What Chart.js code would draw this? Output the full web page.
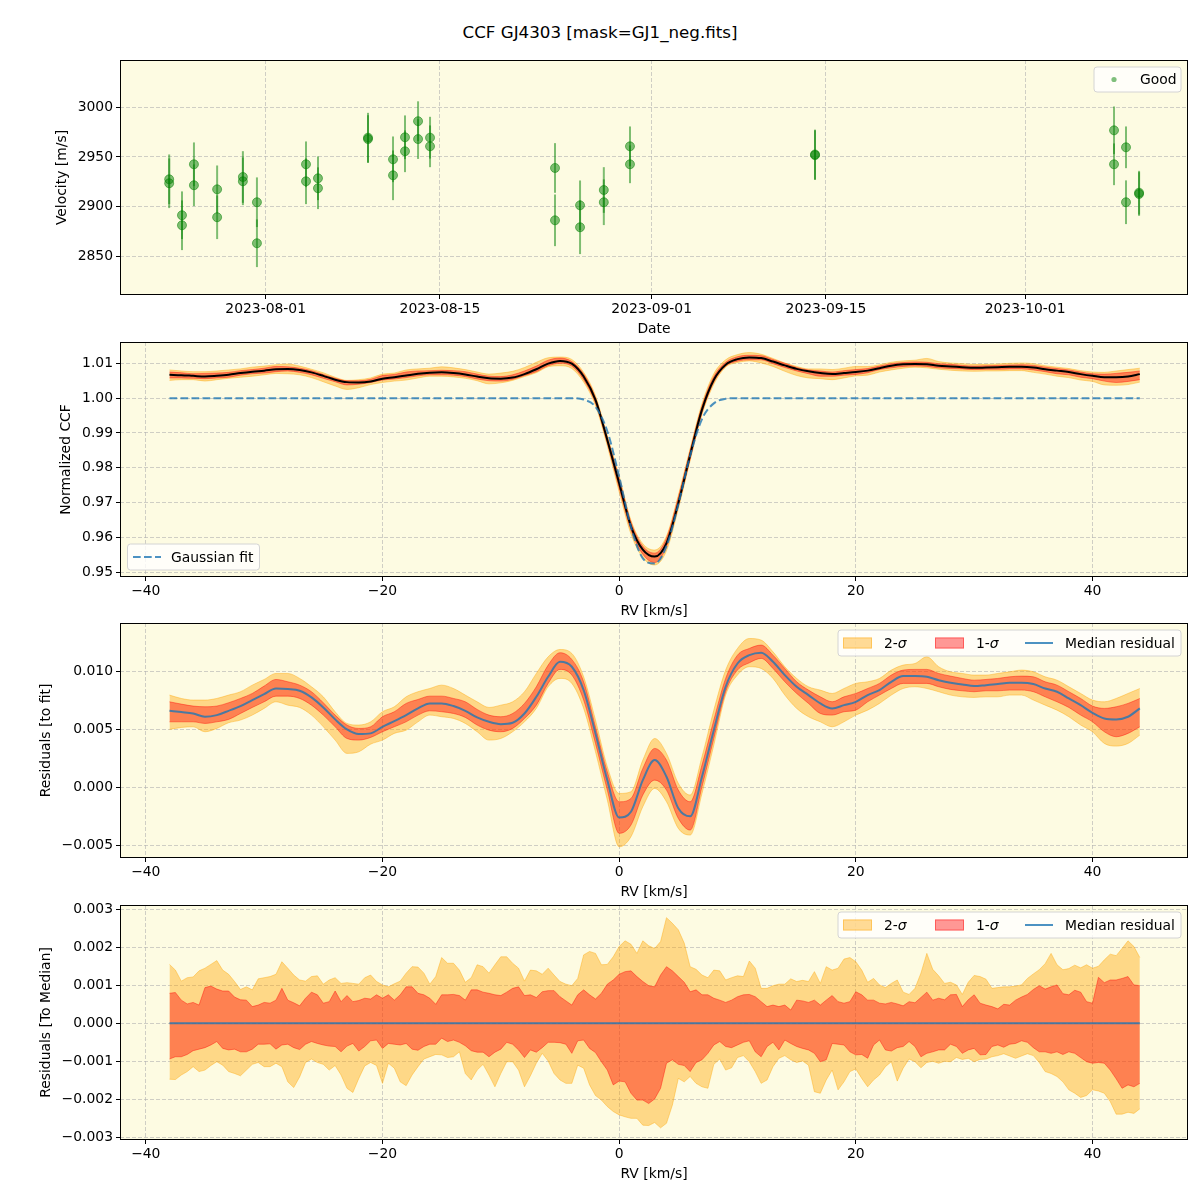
<!DOCTYPE html>
<html>
<head>
<meta charset="utf-8">
<script src="https://cdn.jsdelivr.net/npm/chart.js@4.4.1/dist/chart.umd.min.js"></script>
<style>
  body { margin: 0; background: #fff; }
  #wrap { position: relative; width: 1200px; height: 1200px; overflow: hidden; }
  #wrap canvas { position: absolute; left: 0; }
  #title { position: absolute; left: 0; top: 22px; width: 1200px; text-align: center;
           font: 16.7px "DejaVu Sans", sans-serif; line-height: 20px; color: #000; }
</style>
</head>
<body>
<div id="wrap">
  <div id="title">CCF GJ4303 [mask=GJ1_neg.fits]</div>
  <canvas id="c-rv" width="1200" height="290" style="top:48px"></canvas>
  <canvas id="c-ccf" width="1200" height="290" style="top:330px"></canvas>
  <canvas id="c-res" width="1200" height="290" style="top:611px"></canvas>
  <canvas id="c-norm" width="1200" height="290" style="top:893px"></canvas>
</div>
<script>
/* ============================================
   Data
   ============================================ */

// Panel 1: radial velocity time series (Good points)
const obsDates = [
    '2023-07-24T06:00', '2023-07-24T06:00', '2023-07-25T06:40', '2023-07-25T06:40',
    '2023-07-26T05:45', '2023-07-26T05:45', '2023-07-28T02:25', '2023-07-28T02:25',
    '2023-07-30T04:05', '2023-07-30T04:05', '2023-07-31T07:10', '2023-07-31T07:10',
    '2023-08-04T05:45', '2023-08-04T05:45', '2023-08-05T04:50', '2023-08-05T04:50',
    '2023-08-09T05:15', '2023-08-09T05:15', '2023-08-11T05:30', '2023-08-11T05:30',
    '2023-08-12T04:35', '2023-08-12T04:35', '2023-08-13T05:45', '2023-08-13T05:45',
    '2023-08-14T04:50', '2023-08-14T04:50', '2023-08-24T05:45', '2023-08-24T05:45',
    '2023-08-26T06:00', '2023-08-26T06:00', '2023-08-28T03:50', '2023-08-28T03:50',
    '2023-08-30T06:15', '2023-08-30T06:15', '2023-09-14T02:55', '2023-09-14T02:55',
    '2023-10-08T03:20', '2023-10-08T03:20', '2023-10-09T02:25', '2023-10-09T02:25',
    '2023-10-10T03:35', '2023-10-10T03:35'
];
const obsVel = [
    2927.5, 2923.5, 2891.3, 2881.2, 2942.6, 2921.5, 2917.4, 2889.3, 2929.8, 2925.5,
    2904.4, 2863.1, 2942.6, 2925.5, 2928.5, 2918.5, 2969.4, 2968.0, 2947.6, 2931.5,
    2969.8, 2955.7, 2986.0, 2968.0, 2969.4, 2960.7, 2938.9, 2886.2, 2901.3, 2879.2,
    2916.7, 2904.4, 2960.7, 2942.6, 2952.5, 2951.8, 2976.8, 2942.6, 2959.7, 2904.4,
    2914.0, 2912.7
];
const obsErr = [
    25, 25, 24, 25, 22, 21, 24, 22, 26, 24,
    25, 24, 23, 23, 22, 21, 25, 24, 23, 25,
    22, 21, 20, 20, 21, 21, 25, 26, 25, 27,
    23, 23, 20, 19, 25, 25, 24, 21, 21, 22,
    22, 22
];
const dateTicks = ['2023-08-01', '2023-08-15', '2023-09-01', '2023-09-15', '2023-10-01'];
const velTicks = [2850, 2900, 2950, 3000];

// Panels 2-3: RV grid (km/s)
const rvCoarse = [
    -38, -37, -36, -35, -34, -33, -32, -31, -30, -29,
    -28, -27, -26, -25, -24, -23, -22, -21, -20, -19,
    -18, -17, -16, -15, -14, -13, -12, -11, -10, -9,
    -8, -7, -6, -5, -4, -3, -2, -1, 0, 1,
    2, 3, 4, 5, 6, 7, 8, 9, 10, 11,
    12, 13, 14, 15, 16, 17, 18, 19, 20, 21,
    22, 23, 24, 25, 26, 27, 28, 29, 30, 31,
    32, 33, 34, 35, 36, 37, 38, 39, 40, 41,
    42, 43, 44
];

// Panel 2: normalized CCF
const ccfMedian = [
    1.0067, 1.0066, 1.0064, 1.0062, 1.0064, 1.0067, 1.0072, 1.0076, 1.0079, 1.0083,
    1.0084, 1.0081, 1.0074, 1.0064, 1.0053, 1.0046, 1.0045, 1.0048, 1.0056, 1.0060,
    1.0065, 1.0070, 1.0073, 1.0074, 1.0072, 1.0068, 1.0062, 1.0057, 1.0056, 1.0059,
    1.0069, 1.0083, 1.0099, 1.0107, 1.0099, 1.0062, 0.9995, 0.9880, 0.9756, 0.9632,
    0.9565, 0.9545, 0.9584, 0.9699, 0.9837, 0.9967, 1.0053, 1.0096, 1.0112, 1.0117,
    1.0115, 1.0105, 1.0094, 1.0084, 1.0077, 1.0072, 1.0069, 1.0072, 1.0075, 1.0079,
    1.0086, 1.0093, 1.0097, 1.0098, 1.0097, 1.0093, 1.0091, 1.0089, 1.0087, 1.0088,
    1.0089, 1.0090, 1.0090, 1.0088, 1.0083, 1.0079, 1.0075, 1.0069, 1.0064, 1.0060,
    1.0060, 1.0062, 1.0069
];
const ccf2Hi = [
    1.0081, 1.0078, 1.0076, 1.0076, 1.0078, 1.0081, 1.0084, 1.0089, 1.0092, 1.0096,
    1.0098, 1.0092, 1.0083, 1.0073, 1.0060, 1.0051, 1.0053, 1.0058, 1.0069, 1.0072,
    1.0081, 1.0084, 1.0086, 1.0090, 1.0087, 1.0082, 1.0075, 1.0069, 1.0072, 1.0077,
    1.0088, 1.0103, 1.0116, 1.0118, 1.0111, 1.0074, 1.0007, 0.9892, 0.9777, 0.9649,
    0.9582, 0.9564, 0.9604, 0.9721, 0.9855, 0.9984, 1.0070, 1.0110, 1.0125, 1.0131,
    1.0126, 1.0114, 1.0101, 1.0091, 1.0084, 1.0084, 1.0082, 1.0086, 1.0091, 1.0091,
    1.0096, 1.0103, 1.0107, 1.0109, 1.0114, 1.0105, 1.0101, 1.0099, 1.0097, 1.0097,
    1.0098, 1.0100, 1.0101, 1.0099, 1.0093, 1.0089, 1.0085, 1.0079, 1.0075, 1.0074,
    1.0078, 1.0082, 1.0086
];
const ccf1Hi = [
    1.0075, 1.0073, 1.0070, 1.0071, 1.0072, 1.0074, 1.0079, 1.0082, 1.0086, 1.0091,
    1.0090, 1.0086, 1.0079, 1.0068, 1.0057, 1.0050, 1.0050, 1.0054, 1.0065, 1.0068,
    1.0075, 1.0078, 1.0079, 1.0080, 1.0079, 1.0076, 1.0069, 1.0063, 1.0062, 1.0067,
    1.0078, 1.0092, 1.0109, 1.0115, 1.0105, 1.0069, 1.0001, 0.9887, 0.9770, 0.9644,
    0.9575, 0.9555, 0.9598, 0.9715, 0.9850, 0.9977, 1.0062, 1.0103, 1.0119, 1.0123,
    1.0122, 1.0111, 1.0100, 1.0088, 1.0081, 1.0078, 1.0075, 1.0079, 1.0082, 1.0085,
    1.0092, 1.0099, 1.0102, 1.0104, 1.0103, 1.0099, 1.0097, 1.0094, 1.0092, 1.0093,
    1.0094, 1.0095, 1.0096, 1.0094, 1.0089, 1.0085, 1.0081, 1.0075, 1.0070, 1.0069,
    1.0071, 1.0074, 1.0078
];
const ccf1Lo = [
    1.0058, 1.0058, 1.0057, 1.0056, 1.0058, 1.0060, 1.0066, 1.0070, 1.0072, 1.0076,
    1.0078, 1.0074, 1.0067, 1.0057, 1.0047, 1.0038, 1.0040, 1.0045, 1.0052, 1.0055,
    1.0059, 1.0064, 1.0067, 1.0067, 1.0066, 1.0062, 1.0055, 1.0050, 1.0049, 1.0054,
    1.0065, 1.0076, 1.0093, 1.0100, 1.0092, 1.0053, 0.9986, 0.9871, 0.9742, 0.9621,
    0.9552, 0.9528, 0.9573, 0.9690, 0.9825, 0.9958, 1.0046, 1.0092, 1.0106, 1.0110,
    1.0110, 1.0099, 1.0088, 1.0078, 1.0070, 1.0063, 1.0063, 1.0066, 1.0068, 1.0073,
    1.0082, 1.0087, 1.0091, 1.0092, 1.0091, 1.0087, 1.0085, 1.0084, 1.0082, 1.0083,
    1.0083, 1.0084, 1.0084, 1.0081, 1.0076, 1.0070, 1.0067, 1.0060, 1.0056, 1.0049,
    1.0045, 1.0048, 1.0053
];
const ccf2Lo = [
    1.0051, 1.0053, 1.0053, 1.0049, 1.0053, 1.0057, 1.0060, 1.0063, 1.0067, 1.0071,
    1.0070, 1.0067, 1.0059, 1.0047, 1.0035, 1.0025, 1.0030, 1.0039, 1.0045, 1.0049,
    1.0052, 1.0058, 1.0063, 1.0063, 1.0061, 1.0057, 1.0050, 1.0041, 1.0044, 1.0051,
    1.0062, 1.0073, 1.0090, 1.0093, 1.0085, 1.0046, 0.9979, 0.9863, 0.9731, 0.9610,
    0.9542, 0.9521, 0.9562, 0.9682, 0.9821, 0.9953, 1.0040, 1.0089, 1.0102, 1.0107,
    1.0101, 1.0091, 1.0077, 1.0065, 1.0058, 1.0056, 1.0053, 1.0058, 1.0064, 1.0066,
    1.0075, 1.0081, 1.0086, 1.0089, 1.0087, 1.0083, 1.0080, 1.0078, 1.0077, 1.0078,
    1.0078, 1.0079, 1.0079, 1.0074, 1.0069, 1.0063, 1.0059, 1.0052, 1.0048, 1.0038,
    1.0037, 1.0039, 1.0046
];
const gaussFit = [
    1.0, 1.0, 1.0, 1.0, 1.0, 1.0, 1.0, 1.0, 1.0, 1.0,
    1.0, 1.0, 1.0, 1.0, 1.0, 1.0, 1.0, 1.0, 1.0, 1.0,
    1.0, 1.0, 1.0, 1.0, 1.0, 1.0, 1.0, 1.0, 1.0, 1.0,
    1.0, 1.0, 1.0, 1.0, 1.0, 0.9996, 0.9975, 0.9905, 0.9775, 0.9630,
    0.9540, 0.9525, 0.9575, 0.9695, 0.9835, 0.9940, 0.9985, 0.9998, 1.0, 1.0,
    1.0, 1.0, 1.0, 1.0, 1.0, 1.0, 1.0, 1.0, 1.0, 1.0,
    1.0, 1.0, 1.0, 1.0, 1.0, 1.0, 1.0, 1.0, 1.0, 1.0,
    1.0, 1.0, 1.0, 1.0, 1.0, 1.0, 1.0, 1.0, 1.0, 1.0,
    1.0, 1.0, 1.0
];
const ccfTicks = [0.95, 0.96, 0.97, 0.98, 0.99, 1.00, 1.01];

// Panel 3: residuals to the Gaussian fit
const resMedian = [
    0.00662, 0.00651, 0.00639, 0.00611, 0.00625, 0.00662, 0.00703, 0.00755, 0.00806, 0.00855,
    0.00850, 0.00835, 0.00778, 0.00691, 0.00588, 0.00501, 0.00461, 0.00467, 0.00524, 0.00573,
    0.00625, 0.00683, 0.00726, 0.00726, 0.00703, 0.00662, 0.00605, 0.00567, 0.00547, 0.00559,
    0.00639, 0.00783, 0.00956, 0.01086, 0.01043, 0.00841, 0.00467, 0.00063, -0.00260, -0.00210,
    0.00063, 0.00236, 0.00092, -0.00180, -0.00250, 0.00092, 0.00495, 0.00870, 0.01071, 0.01143,
    0.01164, 0.01086, 0.00971, 0.00870, 0.00798, 0.00726, 0.00683, 0.00711, 0.00740, 0.00798,
    0.00841, 0.00913, 0.00962, 0.00962, 0.00956, 0.00927, 0.00904, 0.00890, 0.00876, 0.00884,
    0.00893, 0.00904, 0.00904, 0.00893, 0.00855, 0.00827, 0.00769, 0.00711, 0.00645, 0.00596,
    0.00588, 0.00611, 0.00683
];
const res2Hi = [
    0.00798, 0.00769, 0.00755, 0.00755, 0.00769, 0.00798, 0.00827, 0.00884, 0.00933, 0.00985,
    0.00985, 0.00942, 0.00870, 0.00783, 0.00654, 0.00553, 0.00539, 0.00567, 0.00654, 0.00697,
    0.00783, 0.00827, 0.00855, 0.00884, 0.00855, 0.00798, 0.00740, 0.00691, 0.00711, 0.00740,
    0.00827, 0.00985, 0.01129, 0.01192, 0.01158, 0.00956, 0.00582, 0.00179, -0.00052, -0.00037,
    0.00236, 0.00423, 0.00294, 0.00035, -0.00066, 0.00265, 0.00668, 0.01014, 0.01201, 0.01287,
    0.01273, 0.01172, 0.01043, 0.00942, 0.00870, 0.00841, 0.00812, 0.00855, 0.00899, 0.00913,
    0.00942, 0.01014, 0.01057, 0.01071, 0.01129, 0.01043, 0.00999, 0.00985, 0.00971, 0.00971,
    0.00985, 0.00999, 0.01014, 0.00999, 0.00956, 0.00927, 0.00870, 0.00812, 0.00755, 0.00740,
    0.00769, 0.00812, 0.00855
];
const res1Hi = [
    0.00740, 0.00720, 0.00703, 0.00697, 0.00703, 0.00732, 0.00769, 0.00812, 0.00876, 0.00933,
    0.00913, 0.00884, 0.00827, 0.00732, 0.00625, 0.00539, 0.00510, 0.00524, 0.00611, 0.00654,
    0.00726, 0.00760, 0.00789, 0.00789, 0.00769, 0.00740, 0.00674, 0.00625, 0.00611, 0.00639,
    0.00726, 0.00870, 0.01057, 0.01164, 0.01106, 0.00913, 0.00524, 0.00135, -0.00124, -0.00095,
    0.00164, 0.00337, 0.00236, -0.00023, -0.00124, 0.00193, 0.00582, 0.00942, 0.01143, 0.01201,
    0.01230, 0.01143, 0.01028, 0.00913, 0.00841, 0.00783, 0.00740, 0.00783, 0.00812, 0.00855,
    0.00899, 0.00971, 0.01014, 0.01020, 0.01020, 0.00985, 0.00962, 0.00942, 0.00927, 0.00933,
    0.00942, 0.00956, 0.00962, 0.00956, 0.00913, 0.00884, 0.00827, 0.00769, 0.00703, 0.00683,
    0.00697, 0.00726, 0.00769
];
const res1Lo = [
    0.00567, 0.00567, 0.00567, 0.00553, 0.00567, 0.00588, 0.00639, 0.00691, 0.00740, 0.00789,
    0.00789, 0.00769, 0.00711, 0.00625, 0.00524, 0.00423, 0.00409, 0.00432, 0.00481, 0.00524,
    0.00567, 0.00625, 0.00662, 0.00654, 0.00639, 0.00605, 0.00539, 0.00495, 0.00481, 0.00510,
    0.00596, 0.00711, 0.00899, 0.01020, 0.00971, 0.00755, 0.00380, -0.00023, -0.00397, -0.00325,
    -0.00066, 0.00063, -0.00023, -0.00268, -0.00369, 0.00006, 0.00423, 0.00827, 0.01014, 0.01077,
    0.01115, 0.01028, 0.00913, 0.00812, 0.00726, 0.00639, 0.00625, 0.00654, 0.00668, 0.00740,
    0.00798, 0.00855, 0.00899, 0.00899, 0.00899, 0.00870, 0.00847, 0.00835, 0.00827, 0.00835,
    0.00835, 0.00841, 0.00841, 0.00827, 0.00783, 0.00740, 0.00691, 0.00625, 0.00567, 0.00481,
    0.00438, 0.00467, 0.00524
];
const res2Lo = [
    0.00501, 0.00518, 0.00524, 0.00481, 0.00510, 0.00559, 0.00582, 0.00625, 0.00683, 0.00740,
    0.00711, 0.00691, 0.00625, 0.00524, 0.00409, 0.00294, 0.00308, 0.00374, 0.00409, 0.00467,
    0.00495, 0.00567, 0.00625, 0.00611, 0.00596, 0.00553, 0.00481, 0.00409, 0.00423, 0.00481,
    0.00567, 0.00683, 0.00870, 0.00942, 0.00899, 0.00683, 0.00308, -0.00109, -0.00513, -0.00426,
    -0.00167, -0.00009, -0.00124, -0.00354, -0.00412, -0.00052, 0.00366, 0.00798, 0.00971, 0.01043,
    0.01028, 0.00942, 0.00798, 0.00683, 0.00611, 0.00567, 0.00524, 0.00567, 0.00625, 0.00668,
    0.00726, 0.00798, 0.00855, 0.00870, 0.00855, 0.00827, 0.00798, 0.00783, 0.00778, 0.00783,
    0.00783, 0.00798, 0.00798, 0.00755, 0.00711, 0.00668, 0.00611, 0.00539, 0.00481, 0.00380,
    0.00357, 0.00380, 0.00452
];
const resTicks = [-0.005, 0.0, 0.005, 0.010];

// Panel 4: residuals to the median (finer RV grid)
const rvFine = [
    -38, -37.5, -37, -36.5, -36, -35.5, -35, -34.5, -34, -33.5,
    -33, -32.5, -32, -31.5, -31, -30.5, -30, -29.5, -29, -28.5,
    -28, -27.5, -27, -26.5, -26, -25.5, -25, -24.5, -24, -23.5,
    -23, -22.5, -22, -21.5, -21, -20.5, -20, -19.5, -19, -18.5,
    -18, -17.5, -17, -16.5, -16, -15.5, -15, -14.5, -14, -13.5,
    -13, -12.5, -12, -11.5, -11, -10.5, -10, -9.5, -9, -8.5,
    -8, -7.5, -7, -6.5, -6, -5.5, -5, -4.5, -4, -3.5,
    -3, -2.5, -2, -1.5, -1, -0.5, 0, 0.5, 1, 1.5,
    2, 2.5, 3, 3.5, 4, 4.5, 5, 5.5, 6, 6.5,
    7, 7.5, 8, 8.5, 9, 9.5, 10, 10.5, 11, 11.5,
    12, 12.5, 13, 13.5, 14, 14.5, 15, 15.5, 16, 16.5,
    17, 17.5, 18, 18.5, 19, 19.5, 20, 20.5, 21, 21.5,
    22, 22.5, 23, 23.5, 24, 24.5, 25, 25.5, 26, 26.5,
    27, 27.5, 28, 28.5, 29, 29.5, 30, 30.5, 31, 31.5,
    32, 32.5, 33, 33.5, 34, 34.5, 35, 35.5, 36, 36.5,
    37, 37.5, 38, 38.5, 39, 39.5, 40, 40.5, 41, 41.5,
    42, 42.5, 43, 43.5, 44
];
const norm2Hi = [
    0.00155, 0.00140, 0.00111, 0.00120, 0.00122, 0.00138, 0.00145, 0.00155, 0.00165, 0.00140,
    0.00129, 0.00110, 0.00089, 0.00096, 0.00088, 0.00117, 0.00120, 0.00123, 0.00129, 0.00162,
    0.00145, 0.00127, 0.00114, 0.00111, 0.00123, 0.00125, 0.00103, 0.00114, 0.00120, 0.00105,
    0.00107, 0.00105, 0.00103, 0.00120, 0.00127, 0.00110, 0.00101, 0.00096, 0.00104, 0.00111,
    0.00132, 0.00149, 0.00148, 0.00132, 0.00103, 0.00123, 0.00173, 0.00158, 0.00158, 0.00140,
    0.00108, 0.00120, 0.00154, 0.00149, 0.00132, 0.00154, 0.00175, 0.00175, 0.00158, 0.00145,
    0.00111, 0.00140, 0.00138, 0.00129, 0.00145, 0.00127, 0.00110, 0.00103, 0.00099, 0.00118,
    0.00180, 0.00189, 0.00184, 0.00154, 0.00155, 0.00175, 0.00202, 0.00217, 0.00208, 0.00184,
    0.00217, 0.00204, 0.00197, 0.00215, 0.00278, 0.00263, 0.00246, 0.00211, 0.00149, 0.00142,
    0.00127, 0.00120, 0.00140, 0.00138, 0.00114, 0.00120, 0.00125, 0.00123, 0.00164, 0.00145,
    0.00092, 0.00092, 0.00099, 0.00103, 0.00103, 0.00117, 0.00110, 0.00113, 0.00110, 0.00136,
    0.00105, 0.00149, 0.00140, 0.00145, 0.00169, 0.00173, 0.00162, 0.00140, 0.00108, 0.00118,
    0.00101, 0.00094, 0.00105, 0.00114, 0.00082, 0.00076, 0.00092, 0.00132, 0.00184, 0.00142,
    0.00125, 0.00105, 0.00108, 0.00101, 0.00076, 0.00108, 0.00126, 0.00123, 0.00116, 0.00092,
    0.00094, 0.00096, 0.00096, 0.00098, 0.00101, 0.00118, 0.00130, 0.00141, 0.00157, 0.00184,
    0.00154, 0.00141, 0.00144, 0.00153, 0.00146, 0.00154, 0.00145, 0.00150, 0.00167, 0.00182,
    0.00178, 0.00197, 0.00217, 0.00202, 0.00173
];
const norm1Hi = [
    0.00079, 0.00081, 0.00061, 0.00051, 0.00055, 0.00048, 0.00094, 0.00098, 0.00090, 0.00085,
    0.00085, 0.00069, 0.00062, 0.00061, 0.00044, 0.00048, 0.00055, 0.00053, 0.00061, 0.00092,
    0.00061, 0.00054, 0.00046, 0.00066, 0.00082, 0.00075, 0.00053, 0.00057, 0.00085, 0.00057,
    0.00073, 0.00057, 0.00060, 0.00066, 0.00064, 0.00075, 0.00066, 0.00075, 0.00061, 0.00075,
    0.00096, 0.00096, 0.00079, 0.00075, 0.00066, 0.00050, 0.00075, 0.00075, 0.00076, 0.00073,
    0.00061, 0.00088, 0.00088, 0.00082, 0.00079, 0.00075, 0.00073, 0.00082, 0.00092, 0.00096,
    0.00073, 0.00075, 0.00068, 0.00083, 0.00086, 0.00086, 0.00070, 0.00059, 0.00048, 0.00075,
    0.00088, 0.00075, 0.00064, 0.00079, 0.00103, 0.00114, 0.00129, 0.00136, 0.00138, 0.00123,
    0.00110, 0.00099, 0.00096, 0.00127, 0.00149, 0.00138, 0.00123, 0.00108, 0.00083, 0.00088,
    0.00075, 0.00075, 0.00066, 0.00061, 0.00055, 0.00061, 0.00070, 0.00075, 0.00076, 0.00070,
    0.00057, 0.00044, 0.00048, 0.00044, 0.00048, 0.00035, 0.00061, 0.00059, 0.00055, 0.00061,
    0.00048, 0.00061, 0.00073, 0.00057, 0.00053, 0.00057, 0.00083, 0.00075, 0.00061, 0.00061,
    0.00053, 0.00051, 0.00055, 0.00051, 0.00046, 0.00057, 0.00054, 0.00068, 0.00082, 0.00061,
    0.00066, 0.00062, 0.00075, 0.00076, 0.00044, 0.00062, 0.00075, 0.00053, 0.00048, 0.00044,
    0.00038, 0.00050, 0.00048, 0.00061, 0.00069, 0.00076, 0.00089, 0.00099, 0.00090, 0.00096,
    0.00101, 0.00078, 0.00075, 0.00087, 0.00082, 0.00057, 0.00053, 0.00121, 0.00107, 0.00114,
    0.00114, 0.00118, 0.00123, 0.00101, 0.00099
];
const norm1Lo = [
    -0.00094, -0.00088, -0.00088, -0.00082, -0.00072, -0.00068, -0.00064, -0.00057, -0.00048, -0.00066,
    -0.00070, -0.00068, -0.00075, -0.00075, -0.00068, -0.00055, -0.00055, -0.00054, -0.00068, -0.00057,
    -0.00055, -0.00064, -0.00069, -0.00055, -0.00048, -0.00053, -0.00057, -0.00060, -0.00061, -0.00075,
    -0.00060, -0.00053, -0.00073, -0.00061, -0.00046, -0.00044, -0.00066, -0.00053, -0.00055, -0.00057,
    -0.00053, -0.00068, -0.00071, -0.00061, -0.00055, -0.00055, -0.00039, -0.00048, -0.00044, -0.00050,
    -0.00059, -0.00072, -0.00076, -0.00076, -0.00088, -0.00076, -0.00068, -0.00050, -0.00055, -0.00070,
    -0.00090, -0.00070, -0.00076, -0.00064, -0.00050, -0.00050, -0.00051, -0.00055, -0.00079, -0.00046,
    -0.00044, -0.00066, -0.00077, -0.00101, -0.00123, -0.00162, -0.00152, -0.00154, -0.00184, -0.00202,
    -0.00202, -0.00211, -0.00199, -0.00171, -0.00105, -0.00096, -0.00108, -0.00111, -0.00127, -0.00103,
    -0.00096, -0.00079, -0.00057, -0.00048, -0.00061, -0.00064, -0.00057, -0.00050, -0.00046, -0.00075,
    -0.00088, -0.00061, -0.00050, -0.00070, -0.00044, -0.00053, -0.00061, -0.00066, -0.00070, -0.00079,
    -0.00101, -0.00096, -0.00053, -0.00055, -0.00057, -0.00075, -0.00083, -0.00082, -0.00092, -0.00057,
    -0.00044, -0.00070, -0.00073, -0.00064, -0.00061, -0.00048, -0.00061, -0.00088, -0.00079, -0.00075,
    -0.00070, -0.00070, -0.00055, -0.00061, -0.00079, -0.00070, -0.00066, -0.00083, -0.00082, -0.00061,
    -0.00057, -0.00063, -0.00055, -0.00053, -0.00046, -0.00050, -0.00064, -0.00075, -0.00075, -0.00079,
    -0.00075, -0.00082, -0.00075, -0.00079, -0.00090, -0.00101, -0.00105, -0.00103, -0.00105, -0.00123,
    -0.00146, -0.00171, -0.00162, -0.00167, -0.00158
];
const norm2Lo = [
    -0.00147, -0.00148, -0.00136, -0.00127, -0.00114, -0.00127, -0.00123, -0.00111, -0.00101, -0.00110,
    -0.00127, -0.00132, -0.00138, -0.00123, -0.00108, -0.00103, -0.00114, -0.00114, -0.00105, -0.00114,
    -0.00154, -0.00169, -0.00141, -0.00103, -0.00094, -0.00103, -0.00108, -0.00123, -0.00111, -0.00136,
    -0.00171, -0.00182, -0.00145, -0.00112, -0.00103, -0.00111, -0.00158, -0.00105, -0.00118, -0.00154,
    -0.00164, -0.00136, -0.00114, -0.00094, -0.00088, -0.00082, -0.00083, -0.00090, -0.00088, -0.00075,
    -0.00132, -0.00149, -0.00123, -0.00108, -0.00136, -0.00167, -0.00132, -0.00101, -0.00101, -0.00123,
    -0.00167, -0.00138, -0.00105, -0.00079, -0.00099, -0.00132, -0.00149, -0.00158, -0.00158, -0.00110,
    -0.00118, -0.00162, -0.00190, -0.00202, -0.00219, -0.00232, -0.00241, -0.00246, -0.00250, -0.00250,
    -0.00268, -0.00269, -0.00261, -0.00275, -0.00263, -0.00215, -0.00145, -0.00154, -0.00140, -0.00158,
    -0.00167, -0.00171, -0.00108, -0.00094, -0.00123, -0.00117, -0.00090, -0.00085, -0.00101, -0.00127,
    -0.00158, -0.00149, -0.00114, -0.00092, -0.00085, -0.00096, -0.00103, -0.00099, -0.00110, -0.00180,
    -0.00184, -0.00149, -0.00123, -0.00175, -0.00154, -0.00127, -0.00120, -0.00145, -0.00167, -0.00149,
    -0.00136, -0.00114, -0.00101, -0.00152, -0.00118, -0.00094, -0.00101, -0.00117, -0.00103, -0.00100,
    -0.00105, -0.00100, -0.00101, -0.00090, -0.00095, -0.00092, -0.00101, -0.00095, -0.00094, -0.00088,
    -0.00085, -0.00080, -0.00086, -0.00092, -0.00086, -0.00080, -0.00085, -0.00103, -0.00127, -0.00132,
    -0.00140, -0.00154, -0.00175, -0.00184, -0.00195, -0.00190, -0.00175, -0.00178, -0.00184, -0.00206,
    -0.00239, -0.00239, -0.00234, -0.00237, -0.00225
];
const normMedRv = [-38, 44];
const normMedian = [0.0, 0.0];
const normTicks = [-0.003, -0.002, -0.001, 0.0, 0.001, 0.002, 0.003];
const rvTicks = [-40, -20, 0, 20, 40];

/* ============================================
   Styling
   ============================================ */

const FONT = '"DejaVu Sans", "Liberation Sans", sans-serif';
const AXES_BG = '#fdfbe2';
const GRID = 'rgba(176,176,176,0.6)';
const ORANGE = 'rgba(255,165,0,0.4)';
const RED = 'rgba(255,0,0,0.4)';
const BLUE = 'rgba(31,119,180,0.8)';
const GREEN = 'rgba(0,128,0,0.5)';
const GAUSS_DASH = [7.7, 3.3];

Chart.defaults.font.family = FONT;
Chart.defaults.font.size = 13.9;
Chart.defaults.color = '#000';

const pts = (xs, ys) => xs.map((x, i) => ({ x: x, y: ys[i] }));
const dayOf = s => (Date.parse(s + 'Z') - Date.parse('2023-08-01T00:00Z')) / 864e5;
const minus = v => (v < -1e-12 ? '\u2212' : '');

const obsDays = obsDates.map(dayOf);
const dateTickDays = dateTicks.map(d => dayOf(d + 'T00:00'));

/* ============================================
   Plugins
   ============================================ */

// axes background, black frame and the in-axes legend box
const panelFrame = {
    id: 'panelFrame',
    beforeDraw(chart) {
        const { ctx, chartArea: a } = chart;
        ctx.save();
        ctx.fillStyle = AXES_BG;
        ctx.fillRect(a.left, a.top, a.right - a.left, a.bottom - a.top);
        ctx.restore();
    },
    afterDraw(chart, args, opts) {
        const { ctx, chartArea: a } = chart;
        ctx.save();
        ctx.strokeStyle = '#000';
        ctx.lineWidth = 1;
        ctx.strokeRect(a.left + 0.5, a.top + 0.5, a.right - a.left - 1, a.bottom - a.top - 1);
        if (opts.legend) drawLegend(ctx, a, opts.legend);
        ctx.restore();
    }
};

function drawLegend(ctx, a, lg) {
    const top = a.top + lg.dy;
    const r = 3;
    const x0 = lg.x, x1 = lg.x + lg.w, y0 = top, y1 = top + lg.h;
    ctx.beginPath();
    ctx.moveTo(x0 + r, y0);
    ctx.arcTo(x1, y0, x1, y1, r);
    ctx.arcTo(x1, y1, x0, y1, r);
    ctx.arcTo(x0, y1, x0, y0, r);
    ctx.arcTo(x0, y0, x1, y0, r);
    ctx.closePath();
    ctx.fillStyle = 'rgba(255,255,255,0.8)';
    ctx.fill();
    ctx.strokeStyle = '#d4d4d4';
    ctx.lineWidth = 1;
    ctx.stroke();

    const cy = top + lg.h / 2;
    lg.items.forEach(it => {
        ctx.save();
        if (it.kind === 'patch') {
            ctx.fillStyle = it.color;
            ctx.strokeStyle = it.color;
            ctx.fillRect(it.x, cy - 5.5, 29, 11);
            ctx.strokeRect(it.x + 0.5, cy - 5, 28, 10);
        } else if (it.kind === 'line') {
            ctx.strokeStyle = it.color;
            ctx.lineWidth = 2;
            ctx.setLineDash(it.dash || []);
            ctx.beginPath();
            ctx.moveTo(it.x, cy);
            ctx.lineTo(it.x + 28, cy);
            ctx.stroke();
        } else if (it.kind === 'dot') {
            ctx.fillStyle = it.color;
            ctx.beginPath();
            ctx.arc(it.x, cy, 2.6, 0, Math.PI * 2);
            ctx.fill();
        }
        ctx.restore();

        ctx.fillStyle = '#000';
        ctx.textBaseline = 'middle';
        ctx.textAlign = 'left';
        ctx.font = `13.9px ${FONT}`;
        ctx.fillText(it.label, it.tx, cy + 1);
        if (it.sigma) {
            const w = ctx.measureText(it.label).width;
            ctx.font = `italic 13.9px ${FONT}`;
            ctx.fillText('\u03c3', it.tx + w, cy + 1);
        }
    });
}

// vertical error bars for the RV points
const errorBars = {
    id: 'errorBars',
    beforeDatasetsDraw(chart) {
        const { ctx, scales: { x, y } } = chart;
        ctx.save();
        ctx.strokeStyle = GREEN;
        ctx.lineWidth = 2;
        obsDays.forEach((d, i) => {
            const px = x.getPixelForValue(d);
            ctx.beginPath();
            ctx.moveTo(px, y.getPixelForValue(obsVel[i] - obsErr[i]));
            ctx.lineTo(px, y.getPixelForValue(obsVel[i] + obsErr[i]));
            ctx.stroke();
        });
        ctx.restore();
    }
};

/* ============================================
   Helpers
   ============================================ */

function scaleOpts(o) {
    const isX = o.axis === 'x';
    return {
        type: 'linear',
        min: o.min,
        max: o.max,
        afterBuildTicks: s => { s.ticks = o.ticks.map(v => ({ value: v })); },
        afterFit: s => { if (isX) s.height = 43; else s.width = 120; },
        ticks: { callback: o.fmt, padding: isX ? 2 : 3, autoSkip: false, maxRotation: 0, color: '#000' },
        grid: { color: GRID, lineWidth: 1, tickLength: 4, tickColor: '#000', tickWidth: 1, tickBorderDash: [] },
        border: { display: false, dash: [4, 2] },
        title: {
            display: true, text: o.title, color: '#000',
            padding: isX ? { top: 0, bottom: 0 } : { top: o.pad, bottom: 0 }
        }
    };
}

function lineSet(xs, ys, color, width, order, extra) {
    return Object.assign({
        data: pts(xs, ys),
        borderColor: color,
        backgroundColor: color,
        borderWidth: width,
        pointRadius: 0,
        fill: false,
        order: order
    }, extra || {});
}

function makePanel(id, type, datasets, scales, frame, extraPlugins) {
    return new Chart(document.getElementById(id), {
        type: type,
        data: { datasets: datasets },
        options: {
            responsive: false,
            animation: false,
            events: [],
            devicePixelRatio: 1,
            layout: { padding: { top: 12, right: 12, left: 0, bottom: 0 } },
            scales: scales,
            plugins: { legend: { display: false }, tooltip: { enabled: false }, panelFrame: frame }
        },
        plugins: [panelFrame].concat(extraPlugins || [])
    });
}

const rvFmt = v => minus(v) + Math.abs(v);
const fmt3 = v => minus(v) + Math.abs(v).toFixed(3);
const sigmaLegend = [
    { kind: 'patch', x: 843, color: ORANGE, label: '2-', sigma: true, tx: 884 },
    { kind: 'patch', x: 935, color: RED, label: '1-', sigma: true, tx: 976 },
    { kind: 'line', x: 1025, color: BLUE, label: 'Median residual', tx: 1065 }
];

/* ============================================
   Panel 1: RV time series
   ============================================ */

makePanel('c-rv', 'scatter', [{
    data: pts(obsDays, obsVel),
    backgroundColor: GREEN,
    borderColor: GREEN,
    borderWidth: 1,
    pointRadius: 4.5
}], {
    x: scaleOpts({ axis: 'x', min: -11.7, max: 74.08, ticks: dateTickDays, fmt: (v, i) => dateTicks[i], title: 'Date' }),
    y: scaleOpts({ axis: 'y', min: 2811, max: 3047.6, ticks: velTicks, fmt: v => String(v), title: 'Velocity [m/s]', pad: 54 })
}, {
    legend: { x: 1094, dy: 7, w: 87, h: 25, items: [{ kind: 'dot', x: 1114, color: GREEN, label: 'Good', tx: 1140 }] }
}, [errorBars]);

/* ============================================
   Panel 2: normalized CCF with Gaussian fit
   ============================================ */

const smooth = { cubicInterpolationMode: 'monotone' };

makePanel('c-ccf', 'line', [
    lineSet(rvCoarse, ccf2Hi, ORANGE, 1, 6, Object.assign({ fill: '+1' }, smooth)),
    lineSet(rvCoarse, ccf2Lo, ORANGE, 1, 5, smooth),
    lineSet(rvCoarse, ccf1Hi, RED, 1, 4, Object.assign({ fill: '+1' }, smooth)),
    lineSet(rvCoarse, ccf1Lo, RED, 1, 3, smooth),
    lineSet(rvCoarse, ccfMedian, '#000', 2, 2, smooth),
    lineSet(rvCoarse, gaussFit, BLUE, 2, 1, Object.assign({ borderDash: GAUSS_DASH }, smooth))
], {
    x: scaleOpts({ axis: 'x', min: -42.18, max: 48.07, ticks: rvTicks, fmt: rvFmt, title: 'RV [km/s]' }),
    y: scaleOpts({ axis: 'y', min: 0.94865, max: 1.01612, ticks: ccfTicks, fmt: v => v.toFixed(2), title: 'Normalized CCF', pad: 58 })
}, {
    legend: { x: 127.5, dy: 202, w: 132, h: 26, items: [{ kind: 'line', x: 133, color: BLUE, dash: GAUSS_DASH, label: 'Gaussian fit', tx: 171 }] }
});

/* ============================================
   Panel 3: residuals to fit
   ============================================ */

makePanel('c-res', 'line', [
    lineSet(rvCoarse, res2Hi, ORANGE, 1, 6, Object.assign({ fill: '+1' }, smooth)),
    lineSet(rvCoarse, res2Lo, ORANGE, 1, 5, smooth),
    lineSet(rvCoarse, res1Hi, RED, 1, 4, Object.assign({ fill: '+1' }, smooth)),
    lineSet(rvCoarse, res1Lo, RED, 1, 3, smooth),
    lineSet(rvCoarse, resMedian, BLUE, 2, 1, smooth)
], {
    x: scaleOpts({ axis: 'x', min: -42.18, max: 48.07, ticks: rvTicks, fmt: rvFmt, title: 'RV [km/s]' }),
    y: scaleOpts({ axis: 'y', min: -0.0061, max: 0.01421, ticks: resTicks, fmt: fmt3, title: 'Residuals [to fit]', pad: 38 })
}, {
    legend: { x: 838, dy: 7, w: 343, h: 26, items: sigmaLegend }
});

/* ============================================
   Panel 4: residuals to median
   ============================================ */

makePanel('c-norm', 'line', [
    lineSet(rvFine, norm2Hi, ORANGE, 1, 6, { fill: '+1' }),
    lineSet(rvFine, norm2Lo, ORANGE, 1, 5),
    lineSet(rvFine, norm1Hi, RED, 1, 4, { fill: '+1' }),
    lineSet(rvFine, norm1Lo, RED, 1, 3),
    lineSet(normMedRv, normMedian, BLUE, 2, 1)
], {
    x: scaleOpts({ axis: 'x', min: -42.18, max: 48.07, ticks: rvTicks, fmt: rvFmt, title: 'RV [km/s]' }),
    y: scaleOpts({ axis: 'y', min: -0.00307, max: 0.003113, ticks: normTicks, fmt: fmt3, title: 'Residuals [To Median]', pad: 38 })
}, {
    legend: { x: 838, dy: 7, w: 343, h: 26, items: sigmaLegend }
});
</script>
</body>
</html>
